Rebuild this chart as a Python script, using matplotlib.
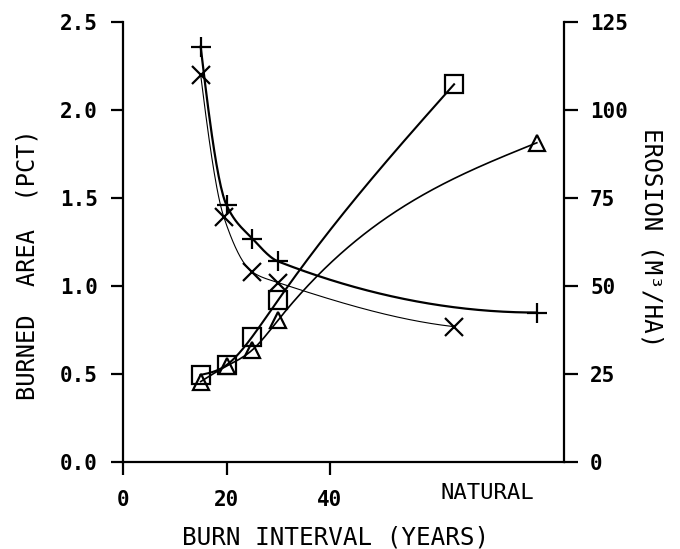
import numpy as np
import matplotlib
matplotlib.use("Agg")
import matplotlib.pyplot as plt

plt.rcParams['font.family'] = ['DejaVu Sans Mono', 'DejaVu Sans']

# burned area (left axis), percent
years_plus = [15, 20, 25, 30, 80]
area_plus = [2.36, 1.46, 1.27, 1.14, 0.85]
years_cross = [15, 19.5, 25, 30, 64]
area_cross = [2.20, 1.39, 1.08, 1.02, 0.77]

# erosion (right axis), m3/ha
years_square = [15, 20, 25, 30, 64]
erosion_square = [24.8, 27.6, 35.7, 46.1, 107.3]
years_tri = [15, 20, 25, 30, 80]
erosion_tri = [22.9, 27.3, 31.9, 40.4, 90.7]

xticks = [0, 20, 40]
natural_pos = 70.5
left_ticks = [0.0, 0.5, 1.0, 1.5, 2.0, 2.5]
right_ticks = [0, 25, 50, 75, 100, 125]


def spline(x, y, n=300):
    # natural cubic spline through the points
    x = np.asarray(x, float)
    y = np.asarray(y, float)
    m = len(x)
    h = np.diff(x)
    A = np.zeros((m, m))
    r = np.zeros(m)
    A[0, 0] = 1
    A[-1, -1] = 1
    for i in range(1, m - 1):
        A[i, i - 1] = h[i - 1]
        A[i, i] = 2 * (h[i - 1] + h[i])
        A[i, i + 1] = h[i]
        r[i] = 3 * ((y[i + 1] - y[i]) / h[i] - (y[i] - y[i - 1]) / h[i - 1])
    c = np.linalg.solve(A, r)
    b = (y[1:] - y[:-1]) / h - h * (2 * c[:-1] + c[1:]) / 3
    d = (c[1:] - c[:-1]) / (3 * h)
    xs = np.linspace(x[0], x[-1], n)
    k = np.clip(np.searchsorted(x, xs) - 1, 0, m - 2)
    t = xs - x[k]
    ys = y[k] + b[k] * t + c[k] * t ** 2 + d[k] * t ** 3
    return xs, ys


def end_slope(h0, h1, d0, d1):
    s = ((2 * h0 + h1) * d0 - h0 * d1) / (h0 + h1)
    if np.sign(s) != np.sign(d0):
        return 0.0
    if np.sign(d0) != np.sign(d1) and abs(s) > 3 * abs(d0):
        return 3 * d0
    return s


def pchip(x, y, n=300):
    # monotone cubic through the points (no wiggles over the long gap)
    x = np.asarray(x, float)
    y = np.asarray(y, float)
    m = len(x)
    h = np.diff(x)
    dl = np.diff(y) / h
    d = np.zeros(m)
    for k in range(1, m - 1):
        if dl[k - 1] * dl[k] > 0:
            w1 = 2 * h[k] + h[k - 1]
            w2 = h[k] + 2 * h[k - 1]
            d[k] = (w1 + w2) / (w1 / dl[k - 1] + w2 / dl[k])
    d[0] = end_slope(h[0], h[1], dl[0], dl[1])
    d[-1] = end_slope(h[-1], h[-2], dl[-1], dl[-2])
    xs = np.linspace(x[0], x[-1], n)
    k = np.clip(np.searchsorted(x, xs) - 1, 0, m - 2)
    t = (xs - x[k]) / h[k]
    h00 = 2 * t ** 3 - 3 * t ** 2 + 1
    h10 = t ** 3 - 2 * t ** 2 + t
    h01 = -2 * t ** 3 + 3 * t ** 2
    h11 = t ** 3 - t ** 2
    ys = h00 * y[k] + h10 * h[k] * d[k] + h01 * y[k + 1] + h11 * h[k] * d[k + 1]
    return xs, ys


fig = plt.figure(figsize=(6.8, 5.49), dpi=100)
ax = fig.add_axes([0.181, 0.158, 0.648, 0.802])
ax2 = ax.twinx()

xs, ys = pchip(years_plus, area_plus)
ax.plot(xs, ys, color='black', lw=1.6)
ax.plot(years_plus, area_plus, '+', color='black', ms=14, mew=1.6)

xs, ys = pchip(years_cross, area_cross)
ax.plot(xs, ys, color='black', lw=0.8)
ax.plot(years_cross, area_cross, 'x', color='black', ms=12.5, mew=1.6)

xs, ys = spline(years_square, erosion_square)
ax2.plot(xs, ys, color='black', lw=1.5)
ax2.plot(years_square, erosion_square, 's', color='black', mfc='none', ms=12.5, mew=1.6)

xs, ys = spline(years_tri, erosion_tri)
ax2.plot(xs, ys, color='black', lw=1.2)
ax2.plot(years_tri, erosion_tri, '^', color='black', mfc='none', ms=11.5, mew=1.6)

ax.set_xlim(0, 85.2)
ax.set_ylim(0, 2.5)
ax2.set_ylim(0, 125)

ax.set_xticks(xticks, [str(v) for v in xticks], fontweight='bold')
ax.set_xticks([natural_pos], ['NATURAL'], minor=True)
ax.set_yticks(left_ticks, ['%.1f' % v for v in left_ticks], fontweight='bold')
ax2.set_yticks(right_ticks, [str(v) for v in right_ticks], fontweight='bold')

for a in (ax, ax2):
    a.spines['top'].set_visible(False)
    for s in a.spines.values():
        s.set_linewidth(1.6)
ax.spines['right'].set_visible(False)
ax2.spines['left'].set_visible(False)
ax2.spines['bottom'].set_visible(False)

ax.tick_params(axis='x', which='major', length=9, width=1.6, pad=11, labelsize=15)
ax.tick_params(axis='x', which='minor', length=0, pad=15, labelsize=16)
ax.tick_params(axis='y', length=9, width=1.6, pad=9, labelsize=15)
ax2.tick_params(axis='y', length=10, width=1.6, pad=9, labelsize=15)

ax.set_xlabel('BURN INTERVAL (YEARS)', fontsize=17.5, va='center')
ax.xaxis.set_label_coords(0.483, -0.17)
ax.set_ylabel('BURNED  AREA  (PCT)', fontsize=17, va='center')
ax.yaxis.set_label_coords(-0.218, 0.448)
ax2.set_ylabel('EROSION (M³/HA)', fontsize=17.5, rotation=-90, va='center')
ax2.yaxis.set_label_coords(1.2, 0.511)

fig.savefig('out.png', dpi=100)
